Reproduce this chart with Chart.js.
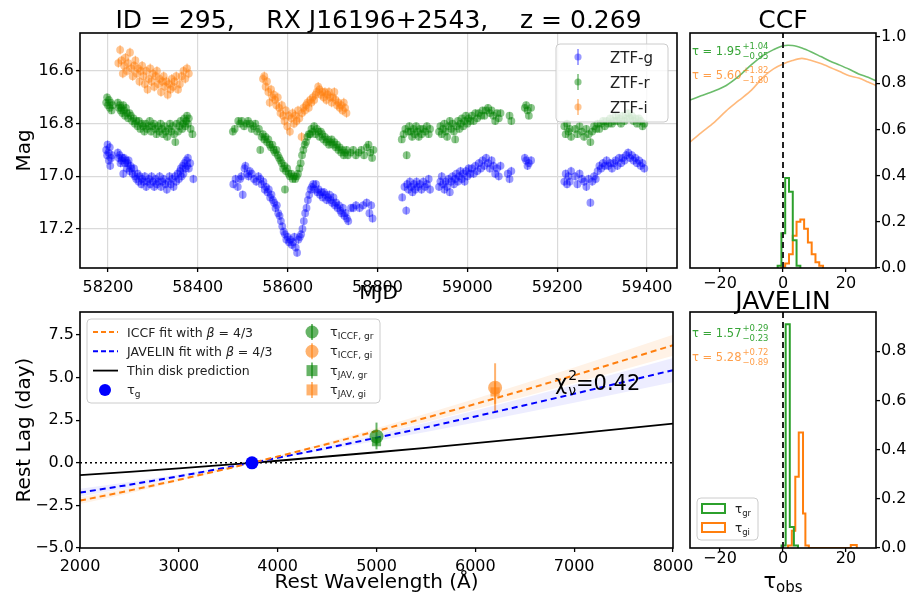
<!DOCTYPE html>
<html>
<head>
<meta charset="utf-8">
<title>RX J16196+2543 lags</title>
<script src="https://cdn.jsdelivr.net/npm/chart.js@4.4.1/dist/chart.umd.min.js"></script>
<style>
  html, body { margin: 0; padding: 0; background: #fff; }
  body { position: relative; width: 911px; height: 594px; overflow: hidden; }
  .panel { position: absolute; }
</style>
</head>
<body>
<div class="panel" style="left:0;top:0;width:685px;height:310px"><canvas id="lc"></canvas></div>
<div class="panel" style="left:685px;top:0;width:226px;height:300px"><canvas id="ccf"></canvas></div>
<div class="panel" style="left:0;top:280px;width:700px;height:314px"><canvas id="lag"></canvas></div>
<div class="panel" style="left:685px;top:280px;width:226px;height:314px"><canvas id="jav"></canvas></div>
<script>
// ---------------------------------------------------------- light curves (MJD, mag)
var gBand = [
  [58196,16.90],[58198,16.92],[58199,16.88],[58201,16.91],[58202,16.94],[58204,16.89],[58205,16.96],[58207,16.93],[58209,16.92],
  [58222,16.91],[58224,16.93],[58226,16.92],[58228,16.95],[58230,16.94],[58232,16.93],[58234,16.99],[58236,16.93],[58238,16.95],
  [58240,16.94],[58242,16.97],[58244,16.95],[58246,16.94],[58248,16.98],[58250,16.96],[58252,16.97],[58255,16.99],[58258,16.97],
  [58260,17.00],[58263,17.01],[58266,16.99],[58268,17.02],[58271,17.00],[58274,17.03],[58276,17.01],[58279,17.02],[58282,17.00],
  [58285,17.04],[58288,17.02],[58291,17.01],[58294,17.03],[58297,17.00],[58300,17.02],[58303,17.04],[58306,17.01],[58309,17.03],
  [58312,17.02],[58315,17.00],[58318,17.04],[58321,17.02],[58324,17.01],[58328,17.03],[58331,17.05],[58334,17.02],[58337,17.00],
  [58340,17.03],[58343,17.01],[58346,17.04],[58349,17.00],[58352,17.02],[58355,16.99],[58358,17.01],[58360,16.98],[58362,16.97],
  [58364,17.00],[58366,16.96],[58368,16.99],[58370,16.95],[58372,16.97],[58374,16.94],[58376,16.96],[58378,16.93],[58380,16.97],
  [58383,16.95],[58390,17.01],
  [58479,17.03],[58484,17.01],[58489,17.04],[58494,17.01],[58497,17.00],[58500,17.07],[58504,16.97],[58506,16.96],[58510,16.99],
  [58513,17.00],[58516,16.98],[58520,16.99],[58525,17.01],[58530,17.02],[58535,17.00],[58539,17.01],[58542,17.03],[58546,17.02],
  [58549,17.05],[58552,17.04],[58555,17.06],[58558,17.05],[58561,17.08],[58564,17.07],[58567,17.09],[58570,17.10],[58573,17.12],
  [58576,17.11],[58579,17.14],[58582,17.15],[58585,17.17],[58588,17.19],[58591,17.21],[58594,17.22],[58597,17.24],[58600,17.23],
  [58603,17.25],[58606,17.24],[58609,17.26],[58612,17.25],[58615,17.23],[58618,17.27],[58621,17.29],[58624,17.24],[58627,17.23],
  [58630,17.22],[58633,17.20],[58636,17.17],[58639,17.14],[58642,17.12],[58645,17.09],[58648,17.07],[58651,17.05],[58654,17.04],
  [58657,17.03],[58660,17.05],[58663,17.03],[58666,17.06],[58669,17.05],[58672,17.07],[58675,17.06],[58678,17.08],[58681,17.06],
  [58684,17.07],[58687,17.09],[58690,17.08],[58693,17.07],[58696,17.09],[58699,17.10],[58702,17.08],[58705,17.11],[58708,17.10],
  [58711,17.12],[58714,17.11],[58717,17.13],[58720,17.14],[58723,17.12],[58726,17.15],[58729,17.14],[58732,17.16],[58735,17.17],
  [58741,17.12],[58746,17.12],[58752,17.11],[58760,17.12],[58768,17.11],[58776,17.10],[58782,17.14],[58786,17.11],[58789,17.16],
  [58855,17.08],[58860,17.04],[58864,17.13],[58866,17.03],[58869,17.05],[58872,17.02],[58875,17.04],[58878,17.06],[58881,17.03],
  [58884,17.05],[58887,17.02],[58890,17.04],[58894,17.03],[58898,17.05],[58902,17.02],[58906,17.04],[58910,17.03],[58914,17.01],
  [58917,17.05],[58937,17.04],[58940,17.02],[58943,17.00],[58946,17.03],[58949,17.05],[58952,17.02],[58955,17.04],[58958,17.01],
  [58961,17.06],[58964,17.02],[58967,17.00],[58970,17.03],[58973,17.01],[58976,16.99],[58979,17.02],[58982,17.00],[58985,16.98],
  [58988,17.01],[58991,16.99],[58994,17.02],[58997,16.98],[59000,17.00],[59003,16.97],[59006,16.99],[59010,16.97],[59014,16.99],
  [59018,16.96],[59022,16.98],[59026,16.95],[59030,16.97],[59034,16.94],[59038,16.96],[59042,16.93],[59046,16.95],[59050,16.97],
  [59054,16.94],[59058,16.96],[59062,16.99],[59066,16.97],[59070,17.00],[59074,16.96],[59090,16.99],[59094,17.01],[59098,16.98],
  [59128,16.93],[59131,16.94],[59134,16.96],[59137,16.95],[59142,16.94],
  [59216,17.02],[59219,16.99],[59222,17.03],[59225,17.00],[59228,17.02],[59231,16.98],[59240,17.00],[59245,17.03],[59250,16.99],
  [59255,17.01],[59260,17.02],[59265,17.04],[59270,17.01],[59274,17.10],[59278,17.02],[59282,17.00],[59286,17.01],[59290,16.98],
  [59294,16.96],[59298,16.97],[59302,16.95],[59306,16.96],[59310,16.94],[59314,16.96],[59318,16.95],[59322,16.97],[59326,16.95],
  [59330,16.94],[59334,16.96],[59338,16.93],[59342,16.95],[59346,16.93],[59350,16.94],[59354,16.92],[59358,16.91],[59362,16.93],
  [59366,16.92],[59370,16.94],[59374,16.93],[59378,16.95],[59382,16.94],[59386,16.96],[59390,16.95],[59394,16.97]
];
var rBand = [
  [58196,16.72],[58198,16.70],[58200,16.73],[58202,16.71],[58204,16.74],[58206,16.72],[58208,16.75],[58210,16.73],
  [58222,16.72],[58224,16.74],[58226,16.73],[58228,16.75],[58230,16.74],[58232,16.76],[58234,16.73],[58236,16.75],[58238,16.77],
  [58240,16.74],[58242,16.76],[58245,16.78],[58248,16.76],[58251,16.77],[58254,16.79],[58257,16.78],[58260,16.80],[58263,16.79],
  [58266,16.81],[58269,16.79],[58272,16.82],[58275,16.80],[58278,16.81],[58281,16.83],[58284,16.80],[58287,16.82],[58290,16.81],
  [58293,16.79],[58296,16.83],[58299,16.81],[58302,16.80],[58305,16.82],[58308,16.84],[58311,16.81],[58314,16.83],[58317,16.80],
  [58320,16.82],[58323,16.84],[58326,16.81],[58329,16.83],[58332,16.85],[58335,16.82],[58338,16.80],[58341,16.83],[58344,16.81],
  [58347,16.84],[58350,16.87],[58353,16.80],[58356,16.83],[58359,16.81],[58362,16.79],[58365,16.82],[58368,16.80],[58370,16.78],
  [58372,16.81],[58374,16.79],[58376,16.77],[58378,16.80],[58380,16.78],[58384,16.82],[58388,16.84],
  [58478,16.83],[58482,16.82],[58490,16.79],[58494,16.80],[58498,16.79],[58503,16.81],[58508,16.80],[58512,16.79],[58516,16.80],
  [58520,16.82],[58524,16.81],[58528,16.80],[58532,16.83],[58536,16.82],[58539,16.90],[58542,16.85],[58545,16.84],[58548,16.86],
  [58551,16.85],[58554,16.87],[58557,16.86],[58560,16.88],[58563,16.89],[58566,16.88],[58569,16.90],[58572,16.91],[58575,16.90],
  [58578,16.92],[58581,16.93],[58584,16.94],[58587,16.95],[58590,16.97],[58593,16.96],[58594,17.05],[58596,16.98],[58599,16.97],
  [58602,16.99],[58605,17.00],[58608,16.99],[58611,17.01],[58614,17.00],[58617,17.01],[58620,17.00],[58623,16.99],[58626,16.97],
  [58629,16.95],[58632,16.92],[58635,16.90],[58638,16.88],[58641,16.87],[58644,16.85],[58647,16.84],[58650,16.84],[58653,16.82],
  [58656,16.83],[58659,16.81],[58662,16.84],[58665,16.82],[58668,16.83],[58671,16.85],[58674,16.83],[58677,16.84],[58680,16.86],
  [58683,16.85],[58686,16.87],[58689,16.86],[58692,16.88],[58695,16.87],[58698,16.86],[58701,16.88],[58704,16.87],[58707,16.89],
  [58710,16.88],[58713,16.90],[58716,16.89],[58719,16.91],[58722,16.90],[58725,16.92],[58728,16.91],[58731,16.90],[58734,16.92],
  [58740,16.91],[58746,16.90],[58752,16.92],[58758,16.91],[58764,16.90],[58770,16.92],[58776,16.89],[58780,16.88],[58784,16.91],
  [58788,16.93],[58791,16.90],
  [58854,16.86],[58858,16.84],[58862,16.82],[58865,16.92],[58868,16.83],[58871,16.81],[58874,16.83],[58877,16.85],[58880,16.82],
  [58883,16.84],[58886,16.81],[58889,16.83],[58892,16.85],[58895,16.82],[58898,16.84],[58902,16.82],[58906,16.83],[58910,16.81],
  [58914,16.84],[58917,16.82],[58937,16.83],[58940,16.81],[58943,16.84],[58946,16.82],[58949,16.80],[58952,16.83],[58955,16.85],
  [58958,16.81],[58961,16.79],[58964,16.82],[58967,16.80],[58970,16.83],[58973,16.86],[58976,16.81],[58979,16.79],[58982,16.82],
  [58985,16.80],[58988,16.78],[58991,16.81],[58994,16.79],[58997,16.77],[59000,16.80],[59003,16.78],[59006,16.79],[59010,16.77],
  [59014,16.79],[59018,16.76],[59022,16.78],[59026,16.76],[59030,16.77],[59034,16.75],[59038,16.77],[59042,16.75],[59046,16.74],
  [59050,16.76],[59054,16.75],[59058,16.77],[59062,16.79],[59066,16.76],[59070,16.78],[59074,16.76],[59094,16.77],[59098,16.79],
  [59128,16.74],[59131,16.73],[59134,16.75],[59137,16.77],[59142,16.74],
  [59216,16.81],[59219,16.84],[59222,16.80],[59225,16.83],[59228,16.82],[59231,16.85],[59240,16.82],[59245,16.84],[59250,16.81],
  [59255,16.83],[59260,16.85],[59265,16.82],[59270,16.84],[59274,16.87],[59278,16.83],[59282,16.81],[59286,16.82],[59290,16.80],
  [59294,16.82],[59298,16.80],[59302,16.79],[59306,16.81],[59310,16.79],[59314,16.80],[59318,16.78],[59322,16.80],[59326,16.79],
  [59330,16.77],[59334,16.79],[59338,16.78],[59342,16.80],[59346,16.77],[59350,16.79],[59354,16.78],[59358,16.76],[59362,16.78],
  [59366,16.77],[59370,16.79],[59374,16.78],[59378,16.80],[59382,16.78],[59386,16.79],[59390,16.81],[59394,16.80]
];
var iBand = [
  [58223,16.57],[58227,16.52],[58230,16.56],[58233,16.61],[58236,16.58],[58239,16.55],[58242,16.60],[58245,16.57],[58249,16.53],
  [58252,16.59],[58255,16.62],[58258,16.58],[58261,16.56],[58264,16.61],[58267,16.59],[58270,16.64],[58273,16.60],[58276,16.58],
  [58279,16.62],[58282,16.65],[58285,16.60],[58288,16.67],[58291,16.63],[58294,16.59],[58297,16.64],[58300,16.61],[58303,16.66],
  [58306,16.62],[58309,16.60],[58312,16.65],[58315,16.63],[58318,16.68],[58321,16.64],[58324,16.62],[58327,16.66],[58330,16.64],
  [58333,16.69],[58336,16.65],[58339,16.67],[58342,16.63],[58345,16.66],[58348,16.64],[58352,16.62],[58356,16.67],[58360,16.65],
  [58364,16.62],[58368,16.60],[58372,16.63],[58376,16.59],[58380,16.61],
  [58545,16.63],[58548,16.62],[58551,16.66],[58554,16.64],[58557,16.68],[58560,16.72],[58563,16.67],[58566,16.70],[58569,16.69],
  [58572,16.71],[58575,16.73],[58578,16.70],[58581,16.74],[58584,16.76],[58587,16.73],[58590,16.77],[58593,16.79],[58596,16.75],
  [58599,16.81],[58602,16.77],[58605,16.83],[58608,16.78],[58611,16.76],[58614,16.80],[58617,16.77],[58620,16.79],[58623,16.75],
  [58626,16.78],[58631,16.85],[58632,16.76],[58635,16.74],[58638,16.75],[58641,16.73],[58644,16.72],[58647,16.74],[58650,16.71],
  [58653,16.72],[58656,16.70],[58659,16.71],[58662,16.69],[58665,16.68],[58668,16.66],[58671,16.67],[58674,16.69],[58677,16.68],
  [58680,16.70],[58683,16.68],[58686,16.71],[58689,16.69],[58692,16.68],[58695,16.70],[58698,16.72],[58701,16.70],[58704,16.68],
  [58707,16.71],[58710,16.73],[58713,16.72],[58716,16.74],[58719,16.73],[58722,16.75],[58725,16.72],[58728,16.74],[58731,16.76]
];
var gErr = 0.016, rErr = 0.014, iErr = 0.018;
var mjdTicks = [58200, 58400, 58600, 58800, 59000, 59200, 59400];
var magTicks = [16.6, 16.8, 17.0, 17.2];

// ---------------------------------------------------------- CCF curves + lag distributions
var ccfTau = [-29.5, -26, -22, -18, -14, -10, -6, -3, 0, 3, 6, 9, 12, 15, 18, 21, 24, 27, 29.5];
var ccfGr  = [0.727, 0.745, 0.765, 0.79, 0.83, 0.88, 0.922, 0.945, 0.962, 0.963, 0.952, 0.935, 0.915, 0.895, 0.878, 0.86, 0.84, 0.825, 0.81];
var ccfGi  = [0.545, 0.585, 0.628, 0.68, 0.725, 0.77, 0.83, 0.862, 0.883, 0.898, 0.907, 0.898, 0.885, 0.868, 0.85, 0.832, 0.822, 0.805, 0.79];
var ccfGrEdges = [-1.7, -0.5, 0.7, 1.9, 3.1, 4.3, 5.5];
var ccfGrVals  = [0.01, 0.15, 0.39, 0.33, 0.12, 0.01];
var ccfGiEdges = [-0.5, 0.7, 1.9, 3.1, 4.3, 5.5, 6.7, 7.9, 9.1, 10.3, 11.5, 12.7];
var ccfGiVals  = [0.005, 0.02, 0.06, 0.14, 0.2, 0.21, 0.17, 0.11, 0.06, 0.025, 0.01];
var javGrEdges = [-0.45, 0.85, 2.15, 3.45, 4.75];
var javGrVals  = [0.01, 0.91, 0.085, 0.01];
var javGiEdges = [1.6, 2.8, 3.9, 5.0, 6.35, 7.1, 8.2, 21.5, 23.4];
var javGiVals  = [0.01, 0.07, 0.29, 0.47, 0.14, 0.01, 0, 0.012];
var ccfLag = [1.95, 5.60], ccfUp = [1.04, 1.82], ccfLo = [0.95, 1.80];
var javLag = [1.57, 5.28], javUp = [0.29, 0.72], javLo = [0.23, 0.89];
var tauTicks = [-20, 0, 20];
var ccfTicks = [0, 0.2, 0.4, 0.6, 0.8, 1.0];
var javTicks = [0, 0.2, 0.4, 0.6, 0.8];

// ---------------------------------------------------------- rest lag vs wavelength
var waveGrid  = [2000, 2500, 3000, 3500, 3740, 4000, 4500, 5000, 5500, 6000, 6500, 7000, 7500, 8000];
var iccfFit   = [-2.22, -1.63, -1.00, -0.33, 0, 0.37, 1.10, 1.86, 2.64, 3.45, 4.28, 5.13, 6.01, 6.90];
var iccfFitHi = [-2.02, -1.48, -0.91, -0.30, 0, 0.40, 1.20, 2.03, 2.88, 3.76, 4.67, 5.59, 6.55, 7.52];
var iccfFitLo = [-2.42, -1.78, -1.09, -0.36, 0, 0.34, 1.00, 1.69, 2.40, 3.14, 3.89, 4.67, 5.47, 6.28];
var javFit    = [-1.75, -1.29, -0.79, -0.26, 0, 0.29, 0.87, 1.47, 2.08, 2.72, 3.38, 4.05, 4.74, 5.44];
var javFitHi  = [-1.52, -1.12, -0.69, -0.23, 0, 0.33, 0.98, 1.66, 2.35, 3.07, 3.82, 4.58, 5.36, 6.15];
var javFitLo  = [-1.98, -1.46, -0.89, -0.29, 0, 0.25, 0.76, 1.28, 1.81, 2.37, 2.94, 3.52, 4.12, 4.73];
var thinDisk  = [-0.72, -0.53, -0.33, -0.11, 0, 0.12, 0.37, 0.62, 0.88, 1.15, 1.43, 1.71, 2.00, 2.30];
var iccfWave = [5000, 6200], iccfRest = [1.54, 4.41], iccfErrHi = [0.82, 1.43], iccfErrLo = [0.75, 1.42];
var javWave  = [5000, 6200], javRest  = [1.24, 4.16], javErrHi  = [0.23, 0.57], javErrLo  = [0.18, 0.70];
var gWave = [3740], gRest = [0];
var waveTicks = [2000, 3000, 4000, 5000, 6000, 7000, 8000];
var lagTicks = [-5, -2.5, 0, 2.5, 5, 7.5];

// ----------------------------------------------------------
var FONT = '"DejaVu Sans", sans-serif';
Chart.defaults.font.family = FONT;
Chart.defaults.color = '#000';
Chart.defaults.animation = false;
Chart.defaults.events = [];
Chart.defaults.plugins.legend.display = false;
Chart.defaults.plugins.tooltip.enabled = false;

var GREEN = '#2ca02c', ORANGE = '#ff7f0e';
var fmt1 = function(v){ return (v < 0 ? '\u2212' : '') + Math.abs(v).toFixed(1); };
var fmt0 = function(v){ return (v < 0 ? '\u2212' : '') + Math.abs(v); };

function axis(o) {
  return {
    type: 'linear', position: o.pos, min: o.min, max: o.max, reverse: !!o.reverse,
    afterBuildTicks: function(s){ s.ticks = o.ticks.map(function(v){ return {value: v}; }); },
    afterFit: function(s){ if (s.isHorizontal()) s.height = o.size; else s.width = o.size; },
    border: {display: false},
    grid: {drawOnChartArea: !!o.grid, color: '#dadada', lineWidth: 1.2, tickColor: '#000', tickLength: 4, tickWidth: 1.3},
    ticks: {font: {size: 16}, color: '#000', padding: o.pad == null ? 2 : o.pad, maxRotation: 0, autoSkip: false, callback: o.fmt},
    title: o.title ? {display: true, text: o.title, font: {size: 20}, padding: o.tpad} : {display: false}
  };
}
function pts(xs, ys){ return xs.map(function(x, i){ return {x: x, y: ys[i]}; }); }
function stepPts(edges, vals) {
  var p = [{x: edges[0], y: 0}];
  vals.forEach(function(v, i){ p.push({x: edges[i], y: v}); });
  p.push({x: edges[edges.length - 1], y: 0});
  return p;
}

var frame = {id: 'frame', afterDatasetsDraw: function(c){
  var a = c.chartArea, x = c.ctx;
  x.save(); x.strokeStyle = '#000'; x.lineWidth = 1.6;
  x.strokeRect(a.left, a.top, a.right - a.left, a.bottom - a.top); x.restore();
}};
var errorBars = {id: 'errorBars', beforeDatasetsDraw: function(c){
  var ctx = c.ctx, ys = c.scales.y;
  c.data.datasets.forEach(function(ds, i){
    if (ds.errLo == null) return;
    var meta = c.getDatasetMeta(i);
    ctx.save(); ctx.strokeStyle = ds.errColor; ctx.lineWidth = ds.errWidth || 1;
    meta.data.forEach(function(p, j){
      var v = ds.data[j].y;
      var lo = Array.isArray(ds.errLo) ? ds.errLo[j] : ds.errLo;
      var hi = Array.isArray(ds.errHi) ? ds.errHi[j] : ds.errHi;
      ctx.beginPath(); ctx.moveTo(p.x, ys.getPixelForValue(v - lo)); ctx.lineTo(p.x, ys.getPixelForValue(v + hi)); ctx.stroke();
    });
    ctx.restore();
  });
}};

function rich(ctx, x, y, parts) {
  ctx.textAlign = 'left'; ctx.textBaseline = 'alphabetic';
  parts.forEach(function(p){
    ctx.font = (p.it ? 'italic ' : '') + p.s + 'px ' + FONT;
    ctx.fillText(p.t, x, y + (p.dy || 0));
    x += ctx.measureText(p.t).width;
  });
  return x;
}
function legendBox(ctx, x, y, w, h) {
  ctx.save();
  ctx.beginPath();
  if (ctx.roundRect) ctx.roundRect(x, y, w, h, 4); else ctx.rect(x, y, w, h);
  ctx.fillStyle = 'rgba(255,255,255,0.8)'; ctx.fill();
  ctx.strokeStyle = '#cccccc'; ctx.lineWidth = 1; ctx.stroke();
  ctx.restore();
}
function title(ctx, text, cx, y) {
  ctx.save(); ctx.fillStyle = '#000'; ctx.font = '25px ' + FONT;
  ctx.textAlign = 'center'; ctx.textBaseline = 'alphabetic'; ctx.fillText(text, cx, y); ctx.restore();
}
function tauLabel(ctx, x, y, val, up, lo, color) {
  ctx.save(); ctx.fillStyle = color;
  var e = rich(ctx, x, y, [{t: '\u03c4 = ' + val.toFixed(2), s: 11.5}]) + 1;
  rich(ctx, e, y - 6, [{t: '+' + up.toFixed(2), s: 8.5}]);
  rich(ctx, e, y + 4, [{t: '\u2212' + lo.toFixed(2), s: 8.5}]);
  ctx.restore();
}
function marker(ctx, x, y, style, r, color, bar) {
  ctx.save(); ctx.fillStyle = color; ctx.strokeStyle = color; ctx.lineWidth = 1.8;
  if (bar) { ctx.beginPath(); ctx.moveTo(x, y - bar); ctx.lineTo(x, y + bar); ctx.stroke(); }
  ctx.beginPath();
  if (style === 'rect') ctx.rect(x - r, y - r, 2 * r, 2 * r); else ctx.arc(x, y, r, 0, Math.PI * 2);
  ctx.fill(); ctx.restore();
}

// ---------------------------------------------------------- light curve panel
var bands = [
  {name: 'ZTF-g', data: gBand, err: gErr, color: 'rgba(0,0,255,0.4)'},
  {name: 'ZTF-r', data: rBand, err: rErr, color: 'rgba(0,128,0,0.45)'},
  {name: 'ZTF-i', data: iBand, err: iErr, color: 'rgba(255,127,14,0.45)'}
];
new Chart(document.getElementById('lc'), {
  type: 'scatter',
  data: {datasets: bands.map(function(b){
    return {label: b.name, data: b.data.map(function(p){ return {x: p[0], y: p[1]}; }),
      pointRadius: 3.9, pointBorderWidth: 0, backgroundColor: b.color,
      errLo: b.err, errHi: b.err, errColor: b.color, errWidth: 1.2};
  })},
  options: {
    responsive: true, maintainAspectRatio: false,
    layout: {padding: {top: 33, right: 8, left: 0, bottom: 0}},
    scales: {
      x: axis({pos: 'bottom', min: 58137.7, max: 59466.8, ticks: mjdTicks, size: 42, grid: true, pad: 6,
               fmt: function(v){ return String(v); }, title: 'MJD', tpad: {top: 0, bottom: 4}}),
      y: axis({pos: 'left', min: 16.456, max: 17.348, reverse: true, ticks: magTicks, size: 80, grid: true,
               fmt: function(v){ return v.toFixed(1); }, title: 'Mag', tpad: {top: 13, bottom: 0}})
    }
  },
  plugins: [errorBars, frame, {id: 'lcDecor', afterDraw: function(c){
    var ctx = c.ctx, a = c.chartArea;
    title(ctx, 'ID = 295,    RX J16196+2543,    z = 0.269', (a.left + a.right) / 2, 28);
    var bx = a.right - 121, by = a.top + 11;
    legendBox(ctx, bx, by, 112, 78);
    bands.forEach(function(b, i){
      var cy = by + 13 + i * 25;
      marker(ctx, bx + 22, cy, 'circle', 3.6, b.color, 8);
      ctx.fillStyle = '#222';
      rich(ctx, bx + 54, cy + 5.5, [{t: b.name, s: 15}]);
    });
  }}]
});

// ---------------------------------------------------------- CCF panel
var zeroLine = {data: [{x: 0, y: 0}, {x: 0, y: 1.1}], borderColor: '#222', borderWidth: 2, borderDash: [6, 4], pointRadius: 0};
new Chart(document.getElementById('ccf'), {
  type: 'line',
  data: {datasets: [
    zeroLine,
    {data: stepPts(ccfGrEdges, ccfGrVals), stepped: true, borderColor: GREEN, borderWidth: 2, pointRadius: 0},
    {data: stepPts(ccfGiEdges, ccfGiVals), stepped: true, borderColor: ORANGE, borderWidth: 2, pointRadius: 0},
    {data: pts(ccfTau, ccfGr), borderColor: 'rgba(44,160,44,0.7)', borderWidth: 1.6, pointRadius: 0, tension: 0.3},
    {data: pts(ccfTau, ccfGi), borderColor: 'rgba(255,127,14,0.55)', borderWidth: 1.6, pointRadius: 0, tension: 0.3}
  ]},
  options: {
    responsive: true, maintainAspectRatio: false,
    layout: {padding: {top: 33, left: 5, right: 0, bottom: 0}},
    scales: {
      x: axis({pos: 'bottom', min: -29.5, max: 29.5, ticks: tauTicks, size: 32, pad: 2, fmt: fmt0}),
      y: axis({pos: 'right', min: 0, max: 1.017, ticks: ccfTicks, size: 35, pad: 1, fmt: fmt1})
    }
  },
  plugins: [frame, {id: 'ccfDecor', afterDraw: function(c){
    var ctx = c.ctx, a = c.chartArea;
    title(ctx, 'CCF', (a.left + a.right) / 2, 28);
    tauLabel(ctx, a.left + 2, a.top + 22, ccfLag[0], ccfUp[0], ccfLo[0], 'rgba(44,160,44,0.95)');
    tauLabel(ctx, a.left + 2, a.top + 46, ccfLag[1], ccfUp[1], ccfLo[1], 'rgba(255,127,14,0.75)');
  }}]
});

// ---------------------------------------------------------- rest lag panel
var G_MK = 'rgba(0,128,0,0.6)', O_MK = 'rgba(255,127,14,0.6)';
new Chart(document.getElementById('lag'), {
  type: 'line',
  data: {datasets: [
    {data: pts(gWave, gRest), showLine: false, pointRadius: 6.5, pointBorderWidth: 0, backgroundColor: '#0000ff'},
    {data: pts(javWave.slice(1), javRest.slice(1)), showLine: false, pointStyle: 'rect', pointRadius: 6.5, pointBorderWidth: 0,
     backgroundColor: O_MK, errLo: javErrLo.slice(1), errHi: javErrHi.slice(1), errColor: O_MK, errWidth: 2},
    {data: pts(javWave.slice(0, 1), javRest.slice(0, 1)), showLine: false, pointStyle: 'rect', pointRadius: 6.5, pointBorderWidth: 0,
     backgroundColor: G_MK, errLo: javErrLo.slice(0, 1), errHi: javErrHi.slice(0, 1), errColor: G_MK, errWidth: 2},
    {data: pts(iccfWave.slice(1), iccfRest.slice(1)), showLine: false, pointRadius: 7, pointBorderWidth: 0,
     backgroundColor: O_MK, errLo: iccfErrLo.slice(1), errHi: iccfErrHi.slice(1), errColor: O_MK, errWidth: 2},
    {data: pts(iccfWave.slice(0, 1), iccfRest.slice(0, 1)), showLine: false, pointRadius: 7, pointBorderWidth: 0,
     backgroundColor: G_MK, errLo: iccfErrLo.slice(0, 1), errHi: iccfErrHi.slice(0, 1), errColor: G_MK, errWidth: 2},
    {data: pts(waveGrid, iccfFit), borderColor: ORANGE, borderWidth: 2, borderDash: [6, 4], pointRadius: 0},
    {data: pts(waveGrid, javFit), borderColor: '#0000ff', borderWidth: 2, borderDash: [6, 4], pointRadius: 0},
    {data: pts(waveGrid, thinDisk), borderColor: '#000', borderWidth: 1.8, pointRadius: 0},
    {data: [{x: 2000, y: 0}, {x: 8000, y: 0}], borderColor: '#000', borderWidth: 1.5, borderDash: [2, 3], pointRadius: 0},
    {data: pts(waveGrid, iccfFitHi), borderWidth: 0, pointRadius: 0, fill: '+1', backgroundColor: 'rgba(255,127,14,0.1)'},
    {data: pts(waveGrid, iccfFitLo), borderWidth: 0, pointRadius: 0, fill: false},
    {data: pts(waveGrid, javFitHi), borderWidth: 0, pointRadius: 0, fill: '+1', backgroundColor: 'rgba(0,0,255,0.07)'},
    {data: pts(waveGrid, javFitLo), borderWidth: 0, pointRadius: 0, fill: false}
  ]},
  options: {
    responsive: true, maintainAspectRatio: false,
    layout: {padding: {top: 32, right: 27, left: 0, bottom: 0}},
    scales: {
      x: axis({pos: 'bottom', min: 2000, max: 8000, ticks: waveTicks, size: 46, pad: 5,
               fmt: function(v){ return String(v); }, title: 'Rest Wavelength (\u00c5)', tpad: {top: 0, bottom: -1}}),
      y: axis({pos: 'left', min: -5, max: 8.85, ticks: lagTicks, size: 80, fmt: fmt1,
               title: 'Rest Lag (day)', tpad: {top: 13, bottom: 0}})
    }
  },
  plugins: [errorBars, frame, {id: 'lagDecor', afterDraw: function(c){
    var ctx = c.ctx, a = c.chartArea;
    var L = a.left + 7, T = a.top + 7;
    legendBox(ctx, L, T, 293, 84);
    var row = function(i){ return T + 13 + i * 19.3; };
    var dash = function(y, color, d, w){
      ctx.save(); ctx.strokeStyle = color; ctx.lineWidth = w; ctx.setLineDash(d);
      ctx.beginPath(); ctx.moveTo(L + 6, y); ctx.lineTo(L + 31, y); ctx.stroke(); ctx.restore();
    };
    dash(row(0), ORANGE, [5, 3], 2);
    dash(row(1), '#0000ff', [5, 3], 2);
    dash(row(2), '#000', [], 1.8);
    marker(ctx, L + 18, row(3), 'circle', 6, '#0000ff', 0);
    ctx.fillStyle = '#222';
    rich(ctx, L + 40, row(0) + 4.5, [{t: 'ICCF fit with ', s: 12.5}, {t: '\u03b2', s: 12.5, it: true}, {t: ' = 4/3', s: 12.5}]);
    rich(ctx, L + 40, row(1) + 4.5, [{t: 'JAVELIN fit with ', s: 12.5}, {t: '\u03b2', s: 12.5, it: true}, {t: ' = 4/3', s: 12.5}]);
    rich(ctx, L + 40, row(2) + 4.5, [{t: 'Thin disk prediction', s: 12.5}]);
    rich(ctx, L + 40, row(3) + 4.5, [{t: '\u03c4', s: 13}, {t: 'g', s: 9, dy: 3}]);
    var right = [['circle', G_MK, 'ICCF, gr'], ['circle', O_MK, 'ICCF, gi'], ['rect', G_MK, 'JAV, gr'], ['rect', O_MK, 'JAV, gi']];
    right.forEach(function(r, i){
      marker(ctx, L + 225, row(i), r[0], r[0] === 'rect' ? 5.5 : 6.5, r[1], 8);
      ctx.fillStyle = '#222';
      rich(ctx, L + 243, row(i) + 4, [{t: '\u03c4', s: 13}, {t: r[2], s: 9, dy: 3}]);
    });
    ctx.fillStyle = '#000';
    var x = rich(ctx, a.left + 475, a.top + 78, [{t: '\u03c7', s: 21}]);
    rich(ctx, x + 1, a.top + 68, [{t: '2', s: 14}]);
    var x2 = rich(ctx, x + 1, a.top + 83, [{t: '\u03bd', s: 14}]);
    rich(ctx, x2, a.top + 78, [{t: '=0.42', s: 21}]);
  }}]
});

// ---------------------------------------------------------- JAVELIN panel
new Chart(document.getElementById('jav'), {
  type: 'line',
  data: {datasets: [
    zeroLine,
    {data: stepPts(javGrEdges, javGrVals), stepped: true, borderColor: GREEN, borderWidth: 2, pointRadius: 0},
    {data: stepPts(javGiEdges, javGiVals), stepped: true, borderColor: ORANGE, borderWidth: 2, pointRadius: 0}
  ]},
  options: {
    responsive: true, maintainAspectRatio: false,
    layout: {padding: {top: 32, left: 5, right: 0, bottom: 0}},
    scales: {
      x: axis({pos: 'bottom', min: -29.5, max: 29.5, ticks: tauTicks, size: 46, pad: -3, fmt: fmt0}),
      y: axis({pos: 'right', min: 0, max: 0.96, ticks: javTicks, size: 35, pad: 1, fmt: fmt1})
    }
  },
  plugins: [frame, {id: 'javDecor', afterDraw: function(c){
    var ctx = c.ctx, a = c.chartArea, cx = (a.left + a.right) / 2;
    title(ctx, 'JAVELIN', cx, 29);
    tauLabel(ctx, a.left + 2, a.top + 25, javLag[0], javUp[0], javLo[0], 'rgba(44,160,44,0.95)');
    tauLabel(ctx, a.left + 2, a.top + 49, javLag[1], javUp[1], javLo[1], 'rgba(255,127,14,0.75)');
    var L = a.left + 7, B = a.bottom - 8;
    legendBox(ctx, L, B - 42, 61, 42);
    [[GREEN, 'gr'], [ORANGE, 'gi']].forEach(function(r, i){
      var cy = B - 42 + 10.5 + i * 19;
      ctx.save(); ctx.strokeStyle = r[0]; ctx.lineWidth = 2; ctx.strokeRect(L + 5, cy - 4.5, 23, 9); ctx.restore();
      ctx.fillStyle = '#222';
      rich(ctx, L + 38, cy + 4, [{t: '\u03c4', s: 12}, {t: r[1], s: 8.5, dy: 3}]);
    });
    ctx.fillStyle = '#000';
    var w1, w2;
    ctx.font = '21px ' + FONT; w1 = ctx.measureText('\u03c4').width;
    ctx.font = '15px ' + FONT; w2 = ctx.measureText('obs').width;
    rich(ctx, cx - (w1 + w2) / 2, a.bottom + 40, [{t: '\u03c4', s: 21}, {t: 'obs', s: 15, dy: 4}]);
  }}]
});
</script>
</body>
</html>
